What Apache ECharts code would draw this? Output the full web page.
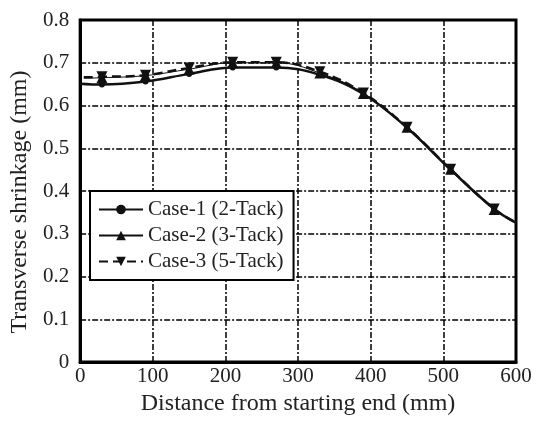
<!DOCTYPE html>
<html><head><meta charset="utf-8">
<script src="https://cdn.jsdelivr.net/npm/echarts@6/dist/echarts.min.js"></script>
<style>html,body{margin:0;padding:0;background:#fff}#c{width:541px;height:421px}</style>
</head><body><div id="c"></div>
<script>
var xCase1 = [0, 30, 90, 150, 210, 270, 330, 390, 450, 510, 570, 600];
var yCase1 = [0.651, 0.649, 0.656, 0.674, 0.689, 0.689, 0.672, 0.627, 0.548, 0.450, 0.358, 0.326];
var xCase2 = [5, 30, 90, 150, 210, 270, 330, 390, 450, 510, 570, 600];
var yCase2 = [0.664, 0.665, 0.670, 0.685, 0.700, 0.700, 0.676, 0.628, 0.549, 0.451, 0.357, 0.325];
var xCase3 = [5, 30, 90, 150, 210, 270, 330, 390, 450, 510, 570, 600];
var yCase3 = [0.666, 0.667, 0.671, 0.688, 0.701, 0.701, 0.679, 0.629, 0.549, 0.451, 0.358, 0.326];
var names = ['Case-1 (2-Tack)', 'Case-2 (3-Tack)', 'Case-3 (5-Tack)'];

function pts(xs, ys) {
  return xs.map(function (x, i) {
    var p = { value: [x, ys[i]] };
    if (i === 0 || i === xs.length - 1) p.symbol = 'none';
    return p;
  });
}
var font = '"Liberation Serif", "Times New Roman", serif';
var grid = { type: [6, 2, 2, 2], color: '#000', width: 1.5 };
var chart = echarts.init(document.getElementById('c'));
chart.setOption({
  animation: false,
  grid: { left: 79, right: 25, top: 20, bottom: 52, show: true, borderColor: '#000', borderWidth: 3, backgroundColor: 'transparent' },
  xAxis: {
    type: 'value', min: 0, max: 600, interval: 100,
    name: 'Distance from starting end (mm)', nameLocation: 'middle', nameGap: 21,
    nameTextStyle: { fontFamily: font, fontSize: 24, color: '#222' },
    axisLine: { show: true, lineStyle: { color: '#000', width: 3 } },
    axisTick: { show: false },
    axisLabel: { fontFamily: font, fontSize: 21, color: '#222', margin: 4 },
    splitLine: { show: true, lineStyle: grid }
  },
  yAxis: {
    type: 'value', min: 0, max: 0.8, interval: 0.1,
    name: 'Transverse shrinkage (mm)', nameLocation: 'middle', nameGap: 40,
    nameTextStyle: { fontFamily: font, fontSize: 24, color: '#222', padding: [0, 22, 0, 0] },
    axisLine: { show: true, lineStyle: { color: '#000', width: 3 } },
    axisTick: { show: false },
    axisLabel: { fontFamily: font, fontSize: 21, color: '#222', margin: 11 },
    splitLine: { show: true, lineStyle: grid }
  },
  legend: {
    orient: 'vertical', left: 90, top: 191, itemGap: 5, itemWidth: 44, itemHeight: 12,
    padding: [8, 10, 8, 8],
    backgroundColor: '#fff', borderColor: '#000', borderWidth: 2,
    textStyle: { fontFamily: font, fontSize: 21, color: '#222' },
    data: names
  },
  series: [
    { name: names[0], type: 'line', smooth: 0.4, data: pts(xCase1, yCase1), z: 3,
      symbol: 'circle', symbolSize: 6, color: '#111',
      lineStyle: { color: '#111', width: 2.5 }, itemStyle: { color: '#111' } },
    { name: names[1], type: 'line', smooth: 0.4, data: pts(xCase2, yCase2), z: 4,
      symbol: 'triangle', symbolSize: 11, color: '#111',
      lineStyle: { color: '#111', width: 1 }, itemStyle: { color: '#111' } },
    { name: names[2], type: 'line', smooth: 0.4, data: pts(xCase3, yCase3), z: 5,
      symbol: 'triangle', symbolRotate: 180, symbolSize: 11, color: '#111',
      lineStyle: { color: '#111', width: 2.5, type: [9, 5] }, itemStyle: { color: '#111' } }
  ]
});
</script></body></html>
